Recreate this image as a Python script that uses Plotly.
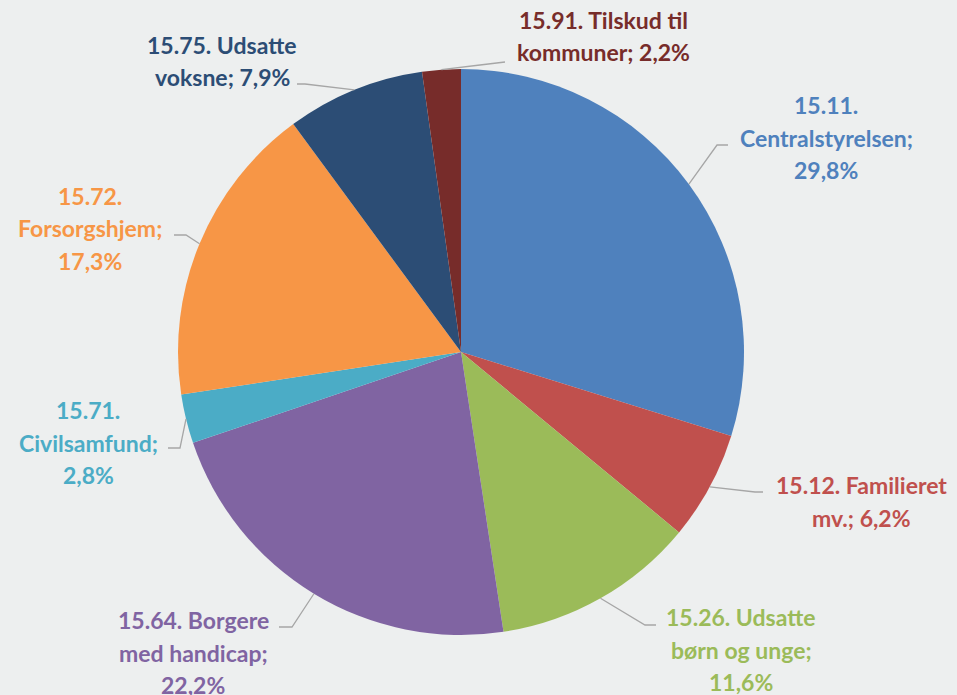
import math
import plotly.graph_objects as go

W, H = 957, 695

categories = ["15.11. Centralstyrelsen", "15.12. Familieret mv.", "15.26. Udsatte børn og unge",
              "15.64. Borgere med handicap", "15.71. Civilsamfund", "15.72. Forsorgshjem",
              "15.75. Udsatte voksne", "15.91. Tilskud til kommuner"]
values = [29.8, 6.2, 11.6, 22.2, 2.8, 17.3, 7.9, 2.2]
colors = ["#4F81BD", "#C0504D", "#9BBB59", "#8064A2", "#4BACC6", "#F79646", "#2C4D75", "#772C2A"]
label_lines = [
    ["15.11.", "Centralstyrelsen;", "29,8%"],
    ["15.12. Familieret", "mv.; 6,2%"],
    ["15.26. Udsatte", "børn og unge;", "11,6%"],
    ["15.64. Borgere", "med handicap;", "22,2%"],
    ["15.71.", "Civilsamfund;", "2,8%"],
    ["15.72.", "Forsorgshjem;", "17,3%"],
    ["15.75. Udsatte", "voksne; 7,9%"],
    ["15.91. Tilskud til", "kommuner; 2,2%"],
]
# label layout (pixels): text centre x, first line y, elbow point, end point
label_pos = [(826, 105), (861, 485), (741, 617), (193, 620), (88, 410), (90, 196), (222, 45), (603, 20)]
elbows = [((717, 145), (728, 145)), ((755, 492), (763, 492)), ((645, 625), (656, 625)),
          ((292, 627), (279, 627)), ((180, 448), (168, 448)), ((186, 235), (174, 235)),
          ((305, 84), (297, 84)), ((480, 65), (505, 62))]

cx, cy, R = 461, 352, 283
px = lambda x: x / W
py = lambda y: 1 - y / H

fig = go.Figure(go.Pie(
    labels=categories, values=values, sort=False, direction="clockwise", rotation=0,
    marker=dict(colors=colors, line=dict(width=0)), textinfo="none", hoverinfo="label+percent",
    domain=dict(x=[px(cx - R), px(cx + R)], y=[py(cy + R), py(cy - R)]),
    showlegend=False,
))

total = sum(values)
cum = 0
shapes, annotations = [], []
for i, v in enumerate(values):
    mid = (cum + v / 2) / total * 2 * math.pi
    cum += v
    sx, sy = cx + R * math.sin(mid), cy - R * math.cos(mid)
    (ex, ey), (fx, fy) = elbows[i]
    path = f"M {px(sx)},{py(sy)} L {px(ex)},{py(ey)} L {px(fx)},{py(fy)}"
    shapes.append(dict(type="path", xref="paper", yref="paper", path=path,
                       line=dict(color="#A6A6A6", width=1.3)))
    tx, ty = label_pos[i]
    for j, line in enumerate(label_lines[i]):
        annotations.append(dict(x=px(tx), y=py(ty + j * 32.5), xref="paper", yref="paper",
                                text=f"<b>{line}</b>", showarrow=False, xanchor="center",
                                yanchor="middle",
                                font=dict(family="Lato", size=23, color=colors[i])))

fig.update_layout(
    width=W, height=H, margin=dict(l=0, r=0, t=0, b=0),
    paper_bgcolor="#EDEFEF", plot_bgcolor="#EDEFEF",
    shapes=shapes, annotations=annotations,
)
fig.write_html("out.html", config=dict(displayModeBar=False),
               post_script="document.body.style.margin='0';document.body.style.overflow='hidden';document.body.style.background='#EDEFEF';")
